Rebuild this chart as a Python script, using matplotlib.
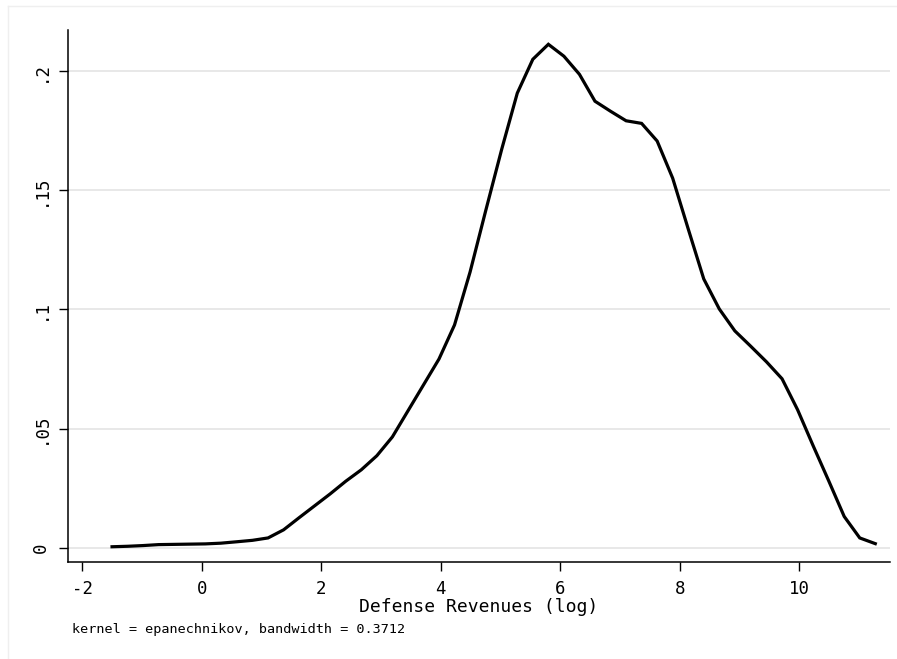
import matplotlib
matplotlib.use("Agg")
import matplotlib.pyplot as plt
from matplotlib.lines import Line2D

# kernel density estimate (50 grid points)
revenue_log = [-1.50, -1.24, -0.98, -0.72, -0.46, -0.20, 0.06, 0.32, 0.59, 0.85,
               1.11, 1.37, 1.63, 1.89, 2.15, 2.41, 2.67, 2.93, 3.19, 3.45,
               3.71, 3.97, 4.23, 4.49, 4.75, 5.02, 5.28, 5.54, 5.80, 6.06,
               6.32, 6.58, 6.84, 7.10, 7.36, 7.62, 7.88, 8.14, 8.40, 8.66,
               8.92, 9.18, 9.45, 9.71, 9.97, 10.23, 10.49, 10.75, 11.01, 11.27]
density = [0.0004, 0.0006, 0.0009, 0.0013, 0.0014, 0.0015, 0.0016, 0.0019, 0.0025, 0.0031,
           0.0041, 0.0075, 0.0126, 0.0176, 0.0226, 0.0279, 0.0327, 0.0386, 0.0465, 0.0574,
           0.0683, 0.0792, 0.0935, 0.1157, 0.1413, 0.1673, 0.1908, 0.2050, 0.2113, 0.2063,
           0.1987, 0.1874, 0.1832, 0.1792, 0.1781, 0.1707, 0.1551, 0.1338, 0.1128, 0.1002,
           0.0910, 0.0847, 0.0780, 0.0709, 0.0579, 0.0428, 0.0281, 0.0131, 0.0041, 0.0017]

xticks = [-2, 0, 2, 4, 6, 8, 10]
yticks = [0, 0.05, 0.1, 0.15, 0.2]
ytick_labels = ["0", ".05", ".1", ".15", ".2"]

plt.rcParams["font.family"] = ["DejaVu Sans Mono", "DejaVu Sans"]
plt.rcParams["axes.unicode_minus"] = False

fig = plt.figure(figsize=(8.97, 6.59), dpi=100)
fig.patch.set_facecolor("white")

# faint graph-region frame (only top and left edges show)
fx, fy = 8 / 897, 1 - 6 / 659
fig.lines.append(Line2D([fx, fx], [0, fy], transform=fig.transFigure, color="#efefef", linewidth=1.0))
fig.lines.append(Line2D([fx, 1], [fy, fy], transform=fig.transFigure, color="#efefef", linewidth=1.0))

ax = fig.add_axes([68 / 897, 1 - 562 / 659, 822 / 897, 532 / 659])
ax.plot(revenue_log, density, color="black", linewidth=2.3, solid_joinstyle="miter", zorder=3)

ax.set_xlim(-2.237, 11.516)
ax.set_ylim(-0.0060, 0.2173)
ax.set_xticks(xticks)
ax.set_yticks(yticks)
ax.set_yticklabels(ytick_labels, rotation=90, va="center")

for y in yticks:
    ax.axhline(y, color="#e6e6e6", linewidth=1.3, zorder=1)

for side in ("top", "right"):
    ax.spines[side].set_visible(False)
for side in ("left", "bottom"):
    ax.spines[side].set_linewidth(1.1)
    ax.spines[side].set_color("black")

ax.tick_params(axis="both", length=6.5, width=1.0, labelsize=12.5, pad=6.5, color="black")
ax.set_xlabel("Defense Revenues (log)", fontsize=13, labelpad=0)

fig.text(72 / 897, 1 - 630 / 659, "kernel = epanechnikov, bandwidth = 0.3712",
         fontsize=9.7, va="center", ha="left")

fig.savefig("out.png", dpi=100, facecolor="white")
